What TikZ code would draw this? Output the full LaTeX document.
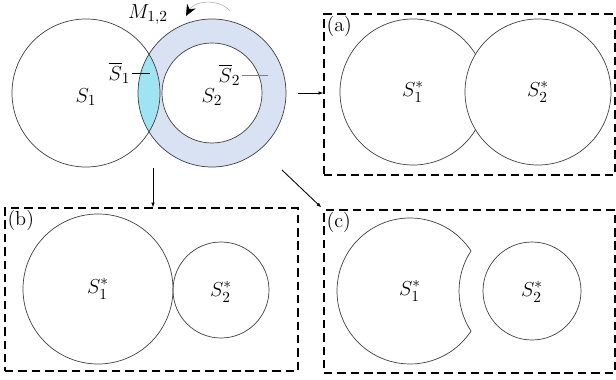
\documentclass[tikz,border=0pt]{standalone}
\usepackage{amsmath}
\usetikzlibrary{arrows.meta, fit}

\definecolor{ringblue}{RGB}{217,226,243}
\definecolor{lenscyan}{RGB}{160,228,244}

\tikzset{
  region/.style={draw=black!75, line width=0.5pt},
  framebox/.style={draw, dash pattern=on 6pt off 3.5pt, line width=0.8pt, inner sep=0pt},
  tag/.style={anchor=north west, inner sep=2pt, font=\Large},
  setlbl/.style={font=\fontsize{15.5}{18}\selectfont},
  flow/.style={-{Latex[length=3.5pt]}, line width=0.6pt}
}

\begin{document}
\begin{tikzpicture}[x=0.025cm, y=0.025cm]
  \useasboundingbox (0,0) rectangle (616,380);

  % overlapping pair with its ring
  \fill[ringblue] (212,287) circle (74);
  \begin{scope}
    \clip (212,287) circle (74);
    \fill[lenscyan] (86,287) circle (74);
  \end{scope}
  \fill[white] (212,287) circle (50);
  \draw[region] (86,287) circle (74);
  \draw[region] (212,287) circle (74);
  \draw[region] (212,287) circle (50);
  \node[setlbl] (s1) at (86,283) {$S_1$};
  \node[setlbl] (s2) at (212,283) {$S_2$};
  \node[setlbl, anchor=east, inner sep=1pt] (sb1) at (132,307) {$\overline{S}_1$};
  \coordinate (sb1end) at (150,307);
  \draw[line width=0.6pt] (sb1.east) -- (sb1end);
  \node[setlbl, anchor=east, inner sep=1pt] (sb2) at (242,305) {$\overline{S}_2$};
  \coordinate (sb2end) at (268,305);
  \draw[gray, line width=0.6pt] (sb2.east) -- (sb2end);
  \node[setlbl] (m12) at (148,365) {$M_{1,2}$};
  \coordinate (rotA) at (230,369);
  \coordinate (rotB) at (186,364);
  \draw[gray!60, -{Stealth[black, length=8pt, width=7pt]}] (rotA) to[bend right=55] (rotB);

  % the three outcomes
  \node[framebox, fit={(324,205) (615,366)}] (boxa) {};
  \node[framebox, fit={(5,9) (298,172)}] (boxb) {};
  \node[framebox, fit={(324,7) (615,170)}] (boxc) {};
  \node[tag] (taga) at (boxa.north west) {(a)};
  \node[tag] (tagb) at (boxb.north west) {(b)};
  \node[tag] (tagc) at (boxc.north west) {(c)};

  \coordinate (outA) at (298,287);
  \coordinate (outB) at (153,212);
  \coordinate (outC) at (282,210);
  \draw[flow] (outA) -- (outA -| boxa.west);
  \draw[flow] (outB) -- (outB |- boxb.north);
  \draw[flow, shorten >=2pt] (outC) -- (boxc.north west);

  % (a) overlapping
  \draw[region] (538,288) circle (73);
  \draw[region] (413,288) ++(31:73) arc[start angle=31, end angle=329, radius=73];
  \node[setlbl] (a1) at (413,288) {$S_1^*$};
  \node[setlbl] (a2) at (538,288) {$S_2^*$};

  % (b) touching
  \draw[region] (98,91) circle (75);
  \draw[region] (221,90) circle (48);
  \node[setlbl] (b1) at (98,91) {$S_1^*$};
  \node[setlbl] (b2) at (221,88) {$S_2^*$};

  % (c) notched
  \draw[region] (410,89) ++(33.3:73) arc[start angle=33.3, end angle=326.7, radius=73]
    arc[start angle=213.3, end angle=146.7, radius=73] -- cycle;
  \draw[region] (532,89) circle (49);
  \node[setlbl] (c1) at (410,89) {$S_1^*$};
  \node[setlbl] (c2) at (532,88) {$S_2^*$};
\end{tikzpicture}
\end{document}
